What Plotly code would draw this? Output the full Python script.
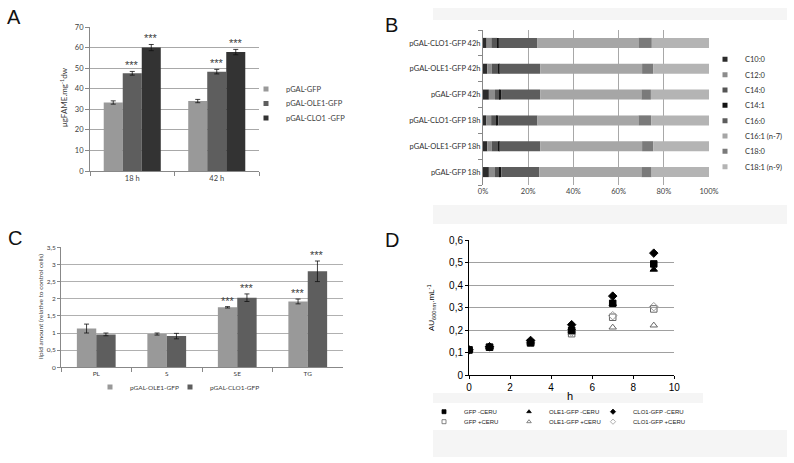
import plotly.graph_objects as go

W, H = 794, 463

# ---- Panel A: total FAME content
a_times = ["18 h", "42 h"]
a_strains = ["pGAL-GFP", "pGAL-OLE1-GFP", "pGAL-CLO1 -GFP"]
a_gfp = [33.3, 34.0]
a_ole1 = [47.5, 48.3]
a_clo1 = [60.0, 57.8]
a_gfp_err = [0.8, 0.8]
a_ole1_err = [0.9, 1.1]
a_clo1_err = [1.5, 1.3]

# ---- Panel B: fatty acid profile (%)
b_samples = ["pGAL-GFP 18h", "pGAL-OLE1-GFP 18h", "pGAL-CLO1-GFP 18h",
             "pGAL-GFP 42h", "pGAL-OLE1-GFP 42h", "pGAL-CLO1-GFP 42h"]
b_acids = ["C10:0", "C12:0", "C14:0", "C14:1", "C16:0", "C16:1 (n-7)", "C18:0", "C18:1 (n-9)"]
b_c10_0 = [2.6, 1.9, 1.5, 2.6, 1.9, 1.6]
b_c12_0 = [2.7, 2.0, 2.1, 2.7, 2.0, 2.1]
b_c14_0 = [2.2, 2.8, 2.4, 2.1, 2.8, 2.5]
b_c14_1 = [0.6, 0.5, 0.8, 0.6, 0.5, 0.7]
b_c16_0 = [16.8, 18.1, 17.3, 17.3, 18.1, 17.2]
b_c16_1 = [45.2, 45.1, 44.7, 44.8, 45.1, 44.7]
b_c18_0 = [4.5, 4.9, 5.6, 4.2, 4.9, 5.9]
b_c18_1 = [25.4, 24.7, 25.6, 25.7, 24.7, 25.3]

# ---- Panel C: lipid classes relative to control
c_classes = ["PL", "S", "SE", "TG"]
c_ole1 = [1.13, 0.97, 1.75, 1.92]
c_ole1_err = [0.13, 0.03, 0.02, 0.07]
c_clo1 = [0.96, 0.91, 2.03, 2.80]
c_clo1_err = [0.04, 0.08, 0.11, 0.30]

# ---- Panel D: growth curves
d_hours = [0, 1, 3, 5, 7, 9]
d_gfp_minus = [0.113, 0.125, 0.145, 0.200, 0.320, 0.495]
d_ole1_minus = [0.113, 0.125, 0.150, 0.210, 0.318, 0.470]
d_clo1_minus = [0.113, 0.127, 0.155, 0.225, 0.352, 0.543]
d_gfp_plus = [0.113, 0.125, 0.143, 0.185, 0.258, 0.295]
d_ole1_plus = [0.113, 0.125, 0.145, 0.190, 0.213, 0.222]
d_clo1_plus = [0.113, 0.125, 0.146, 0.192, 0.265, 0.305]

XL = "Lato"
ARIAL = "Liberation Sans"
TXT = "#404040"
LIGHT, MID, DARK = "#999999", "#5e5e5e", "#333333"


def xd(left, right):
    return [left / W, right / W]


def yd(top, bottom):
    return [1 - bottom / H, 1 - top / H]


def px_x(v):
    return v / W


def px_y(v):
    return 1 - v / H


fig = go.Figure()
legends = {}


def new_legend(lx, ly, **kw):
    key = "legend" if not legends else f"legend{len(legends) + 1}"
    opts = dict(x=px_x(lx), y=px_y(ly), xanchor="left", yanchor="middle",
                bgcolor="rgba(0,0,0,0)", font=dict(family=XL, size=7.5, color=TXT))
    opts.update(kw)
    legends[key] = opts
    return key


def legend_entry(key, name, color, xref, yref, symbol="square", size=5, lw=0):
    # legend-only marker (no data drawn)
    fig.add_trace(go.Scatter(x=[None], y=[None], mode="markers", name=name, legend=key,
                             xaxis=xref, yaxis=yref,
                             marker=dict(symbol=symbol, size=size, color=color,
                                         line=dict(width=lw, color=color))))


# Panel A bars
a_series = [(a_gfp, a_gfp_err, LIGHT), (a_ole1, a_ole1_err, MID), (a_clo1, a_clo1_err, DARK)]
for i, (vals, errs, col) in enumerate(a_series):
    fig.add_trace(go.Bar(x=a_times, y=vals, width=0.225, offset=-0.3375 + 0.225 * i,
                         marker=dict(color=col, line=dict(width=0)), showlegend=False,
                         error_y=dict(type="data", array=errs, color="#111", thickness=0.8, width=2.5),
                         xaxis="x", yaxis="y"))
    legend_entry(new_legend(246, 89 + 14.5 * i), a_strains[i], col, "x", "y")
    if i > 0:
        for t, v, e in zip(a_times, vals, errs):
            fig.add_annotation(x=t, y=v + e, xref="x", yref="y", text="***", showarrow=False,
                               yanchor="bottom", xshift=19 * (i - 1), yshift=-2,
                               font=dict(family=ARIAL, size=11, color=TXT))

# Panel B stacked bars (stacked through base)
b_cols = ["#2b2b2b", "#8c8c8c", "#555555", "#141414", "#5d5d5d", "#a6a6a6", "#7a7a7a", "#b4b4b4"]
b_all = [b_c10_0, b_c12_0, b_c14_0, b_c14_1, b_c16_0, b_c16_1, b_c18_0, b_c18_1]
running = [0.0] * len(b_samples)
for k, vals in enumerate(b_all):
    fig.add_trace(go.Bar(y=b_samples, x=vals, base=list(running), orientation="h",
                         width=0.39, offset=-0.195, showlegend=False,
                         marker=dict(color=b_cols[k], line=dict(width=0)),
                         xaxis="x2", yaxis="y2"))
    running = [r + v for r, v in zip(running, vals)]
    legend_entry(new_legend(705, 59.3 + 15.34 * k, font=dict(family=XL, size=7.5, color="#303030")),
                 b_acids[k], b_cols[k], "x2", "y2")

# Panel C bars
c_series = [("pGAL-OLE1-GFP", c_ole1, c_ole1_err, LIGHT), ("pGAL-CLO1-GFP", c_clo1, c_clo1_err, MID)]
for i, (name, vals, errs, col) in enumerate(c_series):
    fig.add_trace(go.Bar(x=c_classes, y=vals, width=0.275, offset=-0.275 + 0.275 * i,
                         marker=dict(color=col, line=dict(width=0)), showlegend=False,
                         error_y=dict(type="data", array=errs, color="#111", thickness=0.8, width=2.5),
                         xaxis="x3", yaxis="y3"))
    key = new_legend(90 + 80 * i, 387, font=dict(family=XL, size=6.5, color=TXT))
    legend_entry(key, name, col, "x3", "y3")
    for cl, v, e in zip(c_classes, vals, errs):
        if cl in ("SE", "TG"):
            fig.add_annotation(x=cl, y=v + e, xref="x3", yref="y3", text="***", showarrow=False,
                               yanchor="bottom", xshift=-9.7 + 19.4 * i, yshift=-2,
                               font=dict(family=ARIAL, size=11, color=TXT))

# Panel D scatter: open markers below, filled on top
d_series = [
    ("GFP +CERU", d_gfp_plus, "square-open", "#666666", 1, 0),
    ("OLE1-GFP +CERU", d_ole1_plus, "triangle-up-open", "#666666", 1, 1),
    ("CLO1-GFP +CERU", d_clo1_plus, "diamond-open", "#9a9a9a", 1, 2),
    ("CLO1-GFP -CERU", d_clo1_minus, "diamond", "#000000", 0, 2),
    ("OLE1-GFP -CERU", d_ole1_minus, "triangle-up", "#000000", 0, 1),
    ("GFP -CERU", d_gfp_minus, "square", "#000000", 0, 0),
]
d_cols_x = [424, 509, 593]
for name, vals, sym, col, row, column in d_series:
    fig.add_trace(go.Scatter(x=d_hours, y=vals, mode="markers", name=name, showlegend=False,
                             xaxis="x4", yaxis="y4",
                             marker=dict(symbol=sym, size=6.5, color=col,
                                         line=dict(width=1, color=col))))
    key = new_legend(d_cols_x[column], 411.7 + 10 * row, font=dict(family=ARIAL, size=6, color="#222"))
    legend_entry(key, name, col, "x4", "y4", symbol=sym, size=4, lw=0.8)

axis_a = dict(showline=True, linecolor="#888888", linewidth=1, ticks="outside", ticklen=4,
              tickcolor="#888888", tickfont=dict(family=XL, size=7.5, color=TXT), zeroline=False)

fig.update_layout(
    width=W, height=H, margin=dict(l=0, r=0, t=0, b=0, autoexpand=False),
    paper_bgcolor="white", plot_bgcolor="rgba(0,0,0,0)",
    barmode="overlay", separators=",.", showlegend=True,
    xaxis=dict(axis_a, domain=xd(90, 259), tickson="boundaries", anchor="y"),
    yaxis=dict(axis_a, domain=yd(27, 171), range=[0, 70], dtick=10, showgrid=True,
               gridcolor="#a8a8a8", anchor="x"),
    xaxis2=dict(axis_a, domain=xd(483, 709), range=[0, 100], dtick=20, ticksuffix="%",
                showline=False, ticks="", showgrid=True, gridcolor="#a8a8a8", anchor="y2"),
    yaxis2=dict(axis_a, domain=yd(30, 185), tickson="boundaries", showgrid=False, anchor="x2",
                tickfont=dict(family=XL, size=7.5, color="#303030")),
    xaxis3=dict(axis_a, domain=xd(61, 343), tickson="boundaries", anchor="y3",
                tickfont=dict(family=XL, size=6.5, color=TXT)),
    yaxis3=dict(axis_a, domain=yd(247.3, 367.3), range=[0, 3.5], dtick=0.5, ticklen=3,
                showgrid=True, gridcolor="#b0b0b0", anchor="x3",
                tickfont=dict(family=XL, size=6.5, color=TXT)),
    xaxis4=dict(domain=xd(469, 674.3), range=[0, 10], dtick=2, showline=True, linecolor="#000",
                ticks="outside", ticklen=3, tickcolor="#000", showgrid=False, zeroline=False,
                tickfont=dict(family=ARIAL, size=10, color="#000"), anchor="y4"),
    yaxis4=dict(domain=yd(240.3, 375.3), range=[0, 0.6], dtick=0.1, showline=True, linecolor="#000",
                ticks="outside", ticklen=3, tickcolor="#000", showgrid=True, gridcolor="#a0a0a0",
                zeroline=False, tickfont=dict(family=ARIAL, size=10, color="#000"), anchor="x4"),
    **legends,
)

# faint scan background bands
for x0, y0, x1, y1 in [(433, 8, 787, 20), (433, 205, 787, 224), (433, 393, 703, 403), (433, 430, 787, 457)]:
    fig.add_shape(type="rect", xref="paper", yref="paper", x0=px_x(x0), x1=px_x(x1),
                  y0=px_y(y1), y1=px_y(y0), fillcolor="#f5f5f5", line=dict(width=0), layer="below")

# panel letters and axis titles
for letter, lx, ly in [("A", 14, 17), ("B", 391, 25), ("C", 15, 238), ("D", 392, 240)]:
    fig.add_annotation(x=px_x(lx), y=px_y(ly), xref="paper", yref="paper", text=letter,
                       xanchor="center", yanchor="middle", showarrow=False,
                       font=dict(family=ARIAL, size=20, color="#111"))

titles = [
    ("μgFAME.mg<sup>-1</sup>dw", 63, 97, -90, XL, 8, TXT),
    ("lipid amount (relative to control cells)", 40, 307, -90, XL, 6.5, TXT),
    ("AU<sub>600nm</sub>.mL<sup>-1</sup>", 431, 308, -90, ARIAL, 8, "#000"),
    ("h", 570, 396, 0, ARIAL, 11, "#000"),
]
for text, tx, ty, ang, fam, size, col in titles:
    fig.add_annotation(x=px_x(tx), y=px_y(ty), xref="paper", yref="paper", text=text,
                       textangle=ang, xanchor="center", yanchor="middle", showarrow=False,
                       font=dict(family=fam, size=size, color=col))

# drop the default page margin so the figure sits at the window origin
fig.write_html("out.html", config={"displayModeBar": False},
               post_script="document.body.style.margin='0';")
